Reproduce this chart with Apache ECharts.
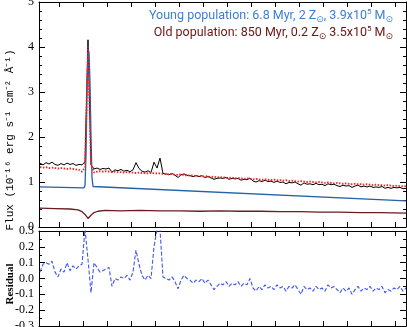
<!DOCTYPE html>
<html>
<head>
<meta charset="utf-8">
<script src="https://cdn.jsdelivr.net/npm/echarts@6/dist/echarts.min.js"></script>
<style>
  html, body { margin: 0; padding: 0; background: #fff; }
  #main { width: 407px; height: 327px; }
</style>
</head>
<body>
<div id="main"></div>
<script>
// wavelength grid of the observed spectrum (Angstrom), 12 A per sample
var waveStart = 4624, waveStep = 12;

// observed flux (black)
var obsFlux = [1.42,1.38,1.43,1.40,1.44,1.39,1.37,1.41,1.38,1.42,
  1.39,1.41,1.37,1.39,1.38,1.45,4.16,1.38,1.29,1.31,
  1.28,1.30,1.29,1.31,1.22,1.27,1.25,1.28,1.24,1.26,
  1.23,1.27,1.43,1.30,1.24,1.22,1.25,1.21,1.44,1.31,
  1.53,1.19,
  1.18,1.16,1.19,1.15,1.10,1.16,1.18,1.15,1.14,1.12,
  1.14,1.12,1.14,1.10,1.12,1.09,1.06,1.08,1.09,1.08,
  1.10,1.06,1.08,1.07,1.08,1.04,1.06,1.05,1.09,1.02,
  1.00,1.03,1.01,1.04,1.01,1.02,0.99,1.02,0.99,1.00,
  0.96,0.99,0.98,1.00,0.96,0.93,0.98,0.95,0.96,0.94,
  0.97,0.94,0.95,0.92,0.96,0.94,0.95,0.92,0.90,0.93,
  0.91,0.92,0.88,0.91,0.93,0.89,0.91,0.89,0.91,0.88,
  0.89,0.88,0.90,0.86,0.88,0.86,0.88,0.87,0.88,0.85,
  0.86];

// total model flux (red dotted)
var modelFlux = [1.33,1.32,1.33,1.31,1.32,1.31,1.30,1.31,1.30,1.29,
  1.30,1.29,1.28,1.27,1.23,1.32,4.00,1.40,1.21,1.23,
  1.24,1.23,1.24,1.23,1.22,1.23,1.22,1.22,1.21,1.22,
  1.21,1.21,1.20,1.21,1.20,1.20,1.19,1.20,1.19,1.19,
  1.19,1.18,
  1.18,1.17,1.18,1.16,1.16,1.17,1.15,1.15,1.14,1.15,
  1.13,1.14,1.12,1.13,1.12,1.11,1.12,1.10,1.11,1.10,
  1.10,1.09,1.10,1.08,1.09,1.08,1.07,1.08,1.07,1.06,
  1.07,1.06,1.05,1.06,1.05,1.04,1.05,1.04,1.04,1.03,
  1.04,1.02,1.03,1.02,1.01,1.02,1.01,1.00,1.01,1.00,
  0.99,1.00,0.99,0.98,0.99,0.98,0.97,0.98,0.97,0.96,
  0.97,0.96,0.95,0.96,0.95,0.95,0.94,0.95,0.94,0.93,
  0.94,0.93,0.93,0.92,0.93,0.92,0.91,0.92,0.91,0.90,
  0.91];

// residual (blue dashed, lower panel)
var residual = [0.04,0.09,0.10,0.09,0.11,0.04,0.01,0.06,0.04,0.10,
  0.05,0.08,0.06,0.08,0.09,0.31,0.12,-0.09,0.10,0.07,
  0.04,0.05,0.06,0.07,-0.05,0.00,-0.01,0.01,0.00,0.02,
  -0.01,0.04,0.18,0.09,0.02,-0.01,0.02,0.00,0.20,0.31,
  0.31,0.01,
  0.00,-0.01,0.01,-0.02,-0.065,-0.01,0.02,0.00,-0.01,-0.03,
  -0.01,-0.02,0.00,-0.03,-0.01,-0.04,-0.07,-0.05,-0.03,-0.04,
  -0.02,-0.05,-0.03,-0.04,-0.02,-0.05,-0.03,-0.04,0.00,-0.06,
  -0.08,-0.05,-0.07,-0.04,-0.06,-0.05,-0.07,-0.04,-0.06,-0.05,
  -0.08,-0.05,-0.06,-0.04,-0.07,-0.10,-0.05,-0.07,-0.06,-0.08,
  -0.05,-0.07,-0.06,-0.08,-0.04,-0.06,-0.05,-0.07,-0.09,-0.06,
  -0.08,-0.06,-0.10,-0.07,-0.05,-0.08,-0.06,-0.07,-0.05,-0.08,
  -0.06,-0.07,-0.05,-0.09,-0.07,-0.08,-0.06,-0.07,-0.05,-0.08,
  -0.06];

// young population component
var youngWave = [4624,4800,4804,4808,4812,4816,4820,4824,4828,4832,4836,4840,6088];
var youngFlux = [0.89,0.87,0.92,1.60,3.00,3.85,3.90,3.20,2.00,1.10,0.90,0.86,0.58];

// old population component
var oldWave = [4624,4684,4744,4776,4792,4804,4816,4828,4840,4856,4884,4944,5024,5104,
  5184,5264,5344,5424,5504,5584,5664,5744,5824,5904,5984,6088];
var oldFlux = [0.42,0.41,0.40,0.38,0.34,0.28,0.19,0.26,0.32,0.35,0.37,0.36,0.37,0.36,
  0.36,0.35,0.36,0.35,0.35,0.34,0.34,0.33,0.33,0.32,0.32,0.31];

// x tick positions (labels are not shown)
var xTicks = [4700,4796,4892,4988,5084,5180,5276,5372,5468,5564,5660,5756,5852,5948,6044];
var xMin = 4620, xMax = 6088;

function pairs(xs, ys) {
  return ys.map(function (v, i) { return [xs[i], v]; });
}
var obsWave = obsFlux.map(function (v, i) { return waveStart + i * waveStep; });

var myChart = echarts.init(document.getElementById('main'));

var serif = 'Liberation Serif';
function xAxisCfg(grid, pos) {
  return {
    type: 'value', gridIndex: grid, position: pos, min: xMin, max: xMax,
    axisLine: { show: true, onZero: false, lineStyle: { color: '#000', width: 1 } },
    axisTick: { show: true, inside: true, length: 5, customValues: xTicks, lineStyle: { color: '#000' } },
    axisLabel: { show: false },
    splitLine: { show: false }
  };
}
function yAxisCfg(grid, pos, lo, hi, step, minorSplit, labels) {
  return {
    type: 'value', gridIndex: grid, position: pos, min: lo, max: hi, interval: step,
    axisLine: { show: true, onZero: false, lineStyle: { color: '#000', width: 1 } },
    axisTick: { show: true, inside: true, length: 6, lineStyle: { color: '#000' } },
    minorTick: { show: true, splitNumber: minorSplit, length: 3, lineStyle: { color: '#000' } },
    axisLabel: { show: labels, color: '#000', fontFamily: serif, fontSize: 12, margin: 5 },
    splitLine: { show: false }
  };
}

var yTop = yAxisCfg(0, 'left', 0, 5, 1, 5, true);
var yBot = yAxisCfg(1, 'left', -0.3, 0.3, 0.1, 2, true);
yBot.axisLabel.formatter = function (v) {
  if (Math.abs(v) < 1e-9) return '0.0';
  return v.toFixed(1);
};

var legendFont = 'Roboto';
var option = {
  animation: false,
  backgroundColor: '#fff',
  grid: [
    { left: 39, right: 1, top: 2, height: 225, outerBoundsMode: 'none' },
    { left: 39, right: 1, top: 231, height: 95, outerBoundsMode: 'none' }
  ],
  xAxis: [xAxisCfg(0, 'bottom'), xAxisCfg(0, 'top'), xAxisCfg(1, 'bottom'), xAxisCfg(1, 'top')],
  yAxis: [yTop, yAxisCfg(0, 'right', 0, 5, 1, 5, false), yBot, yAxisCfg(1, 'right', -0.3, 0.3, 0.1, 2, false)],
  series: [
    {
      name: 'observed', type: 'line', xAxisIndex: 0, yAxisIndex: 0, symbol: 'none',
      data: pairs(obsWave, obsFlux), lineStyle: { color: '#000', width: 1 }
    },
    {
      name: 'young', type: 'line', xAxisIndex: 0, yAxisIndex: 0, symbol: 'none',
      data: pairs(youngWave, youngFlux), lineStyle: { color: '#2461a6', width: 1.3 }
    },
    {
      name: 'old', type: 'line', xAxisIndex: 0, yAxisIndex: 0, symbol: 'none',
      data: pairs(oldWave, oldFlux), lineStyle: { color: '#6b1c1c', width: 1.3 }
    },
    {
      name: 'model', type: 'line', xAxisIndex: 0, yAxisIndex: 0, symbol: 'none',
      data: pairs(obsWave, modelFlux), lineStyle: { color: '#ff1e1e', width: 1.8, type: [1.5, 1.5] }
    },
    {
      name: 'residual', type: 'line', xAxisIndex: 2, yAxisIndex: 2, symbol: 'none',
      data: pairs(obsWave, residual), lineStyle: { color: '#3f56f0', width: 1.1, type: [4, 2] }
    }
  ],
  graphic: [
    {
      type: 'text', x: 10, y: 140, rotation: Math.PI / 2,
      style: {
        text: 'Flux (10\u207B\u00B9\u2076 erg s\u207B\u00B9 cm\u207B\u00B2 \u00C5\u207B\u00B9)',
        fill: '#000', font: '11px "Liberation Mono"', align: 'center', verticalAlign: 'middle'
      }
    },
    {
      type: 'text', x: 10, y: 284, rotation: Math.PI / 2,
      style: {
        text: 'Residual',
        fill: '#000', font: 'bold 11px "Liberation Serif"', align: 'center', verticalAlign: 'middle'
      }
    },
    {
      type: 'text', right: 14, top: 8,
      style: {
        text: '{t|Young population: 6.8 Myr, 2 Z}{s|\u2299}{t|, 3.9x10}{p|5}{t| M}{s|\u2299}',
        fill: '#3b7fd6',
        rich: {
          t: { fontFamily: legendFont, fontSize: 12.5, fill: '#3b7fd6', lineHeight: 16 },
          s: { fontFamily: 'DejaVu Sans', fontSize: 9, fill: '#3b7fd6', verticalAlign: 'bottom', lineHeight: 13 },
          p: { fontFamily: legendFont, fontSize: 8, fill: '#3b7fd6', verticalAlign: 'top', lineHeight: 12 }
        }
      }
    },
    {
      type: 'text', right: 14, top: 25,
      style: {
        text: '{t|Old population: 850 Myr, 0.2 Z}{s|\u2299}{t| 3.5x10}{p|5}{t| M}{s|\u2299}',
        fill: '#6e1414',
        rich: {
          t: { fontFamily: legendFont, fontSize: 12.5, fill: '#6e1414', lineHeight: 16 },
          s: { fontFamily: 'DejaVu Sans', fontSize: 9, fill: '#6e1414', verticalAlign: 'bottom', lineHeight: 13 },
          p: { fontFamily: legendFont, fontSize: 8, fill: '#6e1414', verticalAlign: 'top', lineHeight: 12 }
        }
      }
    }
  ]
};
myChart.setOption(option);
</script>
</body>
</html>
